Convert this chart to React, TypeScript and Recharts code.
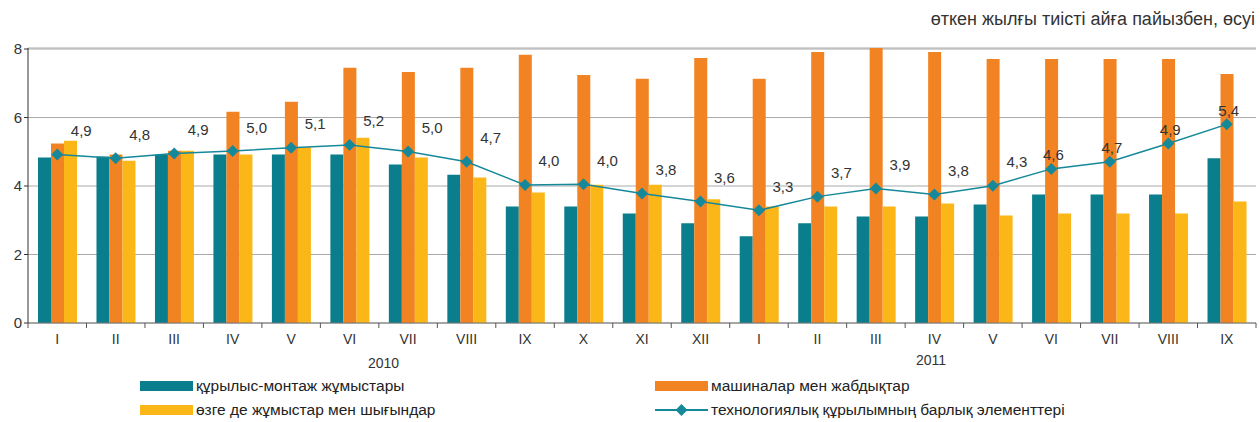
import React from "react";
import {
  ComposedChart,
  Bar,
  Line,
  XAxis,
  YAxis,
  CartesianGrid,
  LabelList,
} from "recharts";

const months = [
  "I", "II", "III", "IV", "V", "VI", "VII", "VIII", "IX", "X", "XI", "XII",
  "I", "II", "III", "IV", "V", "VI", "VII", "VIII", "IX",
];
const construction = [
  4.83, 4.86, 4.92, 4.92, 4.92, 4.92, 4.63, 4.33, 3.4, 3.4, 3.2, 2.91,
  2.53, 2.91, 3.11, 3.11, 3.46, 3.75, 3.75, 3.75, 4.81,
];
const machinery = [
  5.24, 4.92, 5.03, 6.17, 6.46, 7.45, 7.33, 7.45, 7.83, 7.24, 7.13, 7.74,
  7.13, 7.91, 8.03, 7.91, 7.71, 7.71, 7.71, 7.71, 7.27,
];
const other = [
  5.32, 4.74, 5.03, 4.92, 5.13, 5.41, 4.83, 4.25, 3.81, 4.04, 4.04, 3.61,
  3.4, 3.4, 3.4, 3.49, 3.14, 3.2, 3.2, 3.2, 3.55,
];
const total = [
  4.92, 4.81, 4.95, 5.02, 5.12, 5.2, 5.01, 4.71, 4.03, 4.05, 3.78, 3.55,
  3.29, 3.69, 3.93, 3.75, 4.01, 4.5, 4.71, 5.24, 5.8,
];
const totalLabels = [
  "4,9", "4,8", "4,9", "5,0", "5,1", "5,2", "5,0", "4,7", "4,0", "4,0", "3,8", "3,6",
  "3,3", "3,7", "3,9", "3,8", "4,3", "4,6", "4,7", "4,9", "5,4",
];
const yTicks = [0, 2, 4, 6, 8];
const years = ["2010", "2011"];
const seriesNames = [
  "құрылыс-монтаж жұмыстары",
  "машиналар мен жабдықтар",
  "өзге де жұмыстар мен шығындар",
  "технологиялық құрылымның барлық элементтері",
];
const title = "өткен жылғы тиісті айға пайызбен, өсуі";

const TEAL = "#0A7E8C";
const ORANGE = "#F28322";
const YELLOW = "#FBB718";
const LINE = "#15889A";
const FONT = "'Liberation Sans', Arial, sans-serif";

const data = months.map((m, i) => ({
  key: i,
  month: m,
  construction: construction[i],
  machinery: machinery[i],
  other: other[i],
  total: total[i],
  label: totalLabels[i],
}));

const LEFT = 28;
const RIGHT = 1256;
const TOP = 48;
const BOTTOM = 323;
const BAND = (RIGHT - LEFT) / months.length;

const XTick = (props: any) => {
  const { x, payload } = props;
  const i = payload.value as number;
  return (
    <g>
      <text
        x={x}
        y={BOTTOM + 21}
        textAnchor="middle"
        fill="#333"
        fontSize={14}
        fontFamily={FONT}
      >
        {months[i]}
      </text>
      <line x1={x + BAND / 2} x2={x + BAND / 2} y1={BOTTOM} y2={BOTTOM + 5} stroke="#555" />
      {i === 0 ? (
        <line x1={x - BAND / 2} x2={x - BAND / 2} y1={BOTTOM} y2={BOTTOM + 5} stroke="#555" />
      ) : null}
    </g>
  );
};

const Diamond = (props: any) => {
  const { cx, cy } = props;
  if (cx == null || cy == null) return null;
  const r = 6;
  return (
    <polygon
      points={`${cx},${cy - r} ${cx + r},${cy} ${cx},${cy + r} ${cx - r},${cy}`}
      fill={LINE}
    />
  );
};

const TotalLabel = (props: any) => {
  const { x, y, value, index } = props;
  const late = index >= 17;
  const dx = late ? 2 : 24;
  const dy = late ? -14 : -24;
  return (
    <text
      x={x + dx}
      y={y + dy}
      textAnchor="middle"
      dominantBaseline="central"
      fill="#333"
      fontSize={15}
      fontFamily={FONT}
    >
      {value}
    </text>
  );
};

const LegendItem = ({ kind, color, text, left, top }: any) => (
  <div
    style={{
      position: "absolute",
      left,
      top,
      display: "flex",
      alignItems: "center",
      fontFamily: FONT,
      fontSize: 15.5,
      color: "#222",
      whiteSpace: "nowrap",
    }}
  >
    {kind === "bar" ? (
      <div style={{ width: 53, height: 10, background: color, marginRight: 3 }} />
    ) : (
      <svg width={53} height={14} style={{ marginRight: 3 }}>
        <line x1={0} x2={53} y1={7} y2={7} stroke={color} strokeWidth={2} />
        <polygon points="26.5,1 32.5,7 26.5,13 20.5,7" fill={color} />
      </svg>
    )}
    <span>{text}</span>
  </div>
);

export default function App() {
  return (
    <div
      style={{
        position: "absolute",
        left: 0,
        top: 0,
        width: 1260,
        height: 422,
        background: "#fff",
        fontFamily: FONT,
      }}
    >
      <div
        style={{
          position: "absolute",
          right: 5,
          top: 9,
          fontSize: 18,
          color: "#333",
          fontFamily: FONT,
          whiteSpace: "nowrap",
        }}
      >
        {title}
      </div>
      <ComposedChart
        width={1260}
        height={353}
        data={data}
        margin={{ top: TOP, right: 1260 - RIGHT, bottom: 0, left: 0 }}
        barGap={0}
        barCategoryGap={9}
      >
        <CartesianGrid vertical={false} stroke="#AAAAAA" />
        <XAxis
          dataKey="key"
          type="category"
          height={353 - BOTTOM}
          tick={<XTick />}
          tickLine={false}
          axisLine={{ stroke: "#777" }}
          interval={0}
        />
        <YAxis
          width={LEFT}
          domain={[0, 8]}
          ticks={yTicks}
          tickSize={4}
          tickLine={{ stroke: "#333" }}
          axisLine={{ stroke: "#333" }}
          tick={{ fill: "#333", fontSize: 15, fontFamily: FONT }}
          interval={0}
        />
        <Bar dataKey="construction" fill={TEAL} barSize={13} isAnimationActive={false} />
        <Bar dataKey="machinery" fill={ORANGE} barSize={13} isAnimationActive={false} />
        <Bar dataKey="other" fill={YELLOW} barSize={13} isAnimationActive={false} />
        <Line
          dataKey="total"
          stroke={LINE}
          strokeWidth={1.5}
          dot={<Diamond />}
          activeDot={false}
          isAnimationActive={false}
        >
          <LabelList dataKey="label" content={<TotalLabel />} />
        </Line>
      </ComposedChart>
      <div style={{ position: "absolute", left: 368, top: 355, fontSize: 14, color: "#333" }}>
        {years[0]}
      </div>
      <div style={{ position: "absolute", left: 916, top: 352, fontSize: 14, color: "#333" }}>
        {years[1]}
      </div>
      <LegendItem kind="bar" color={TEAL} text={seriesNames[0]} left={140} top={377} />
      <LegendItem kind="bar" color={ORANGE} text={seriesNames[1]} left={655} top={377} />
      <LegendItem kind="bar" color={YELLOW} text={seriesNames[2]} left={140} top={401} />
      <LegendItem kind="line" color={LINE} text={seriesNames[3]} left={655} top={401} />
    </div>
  );
}
